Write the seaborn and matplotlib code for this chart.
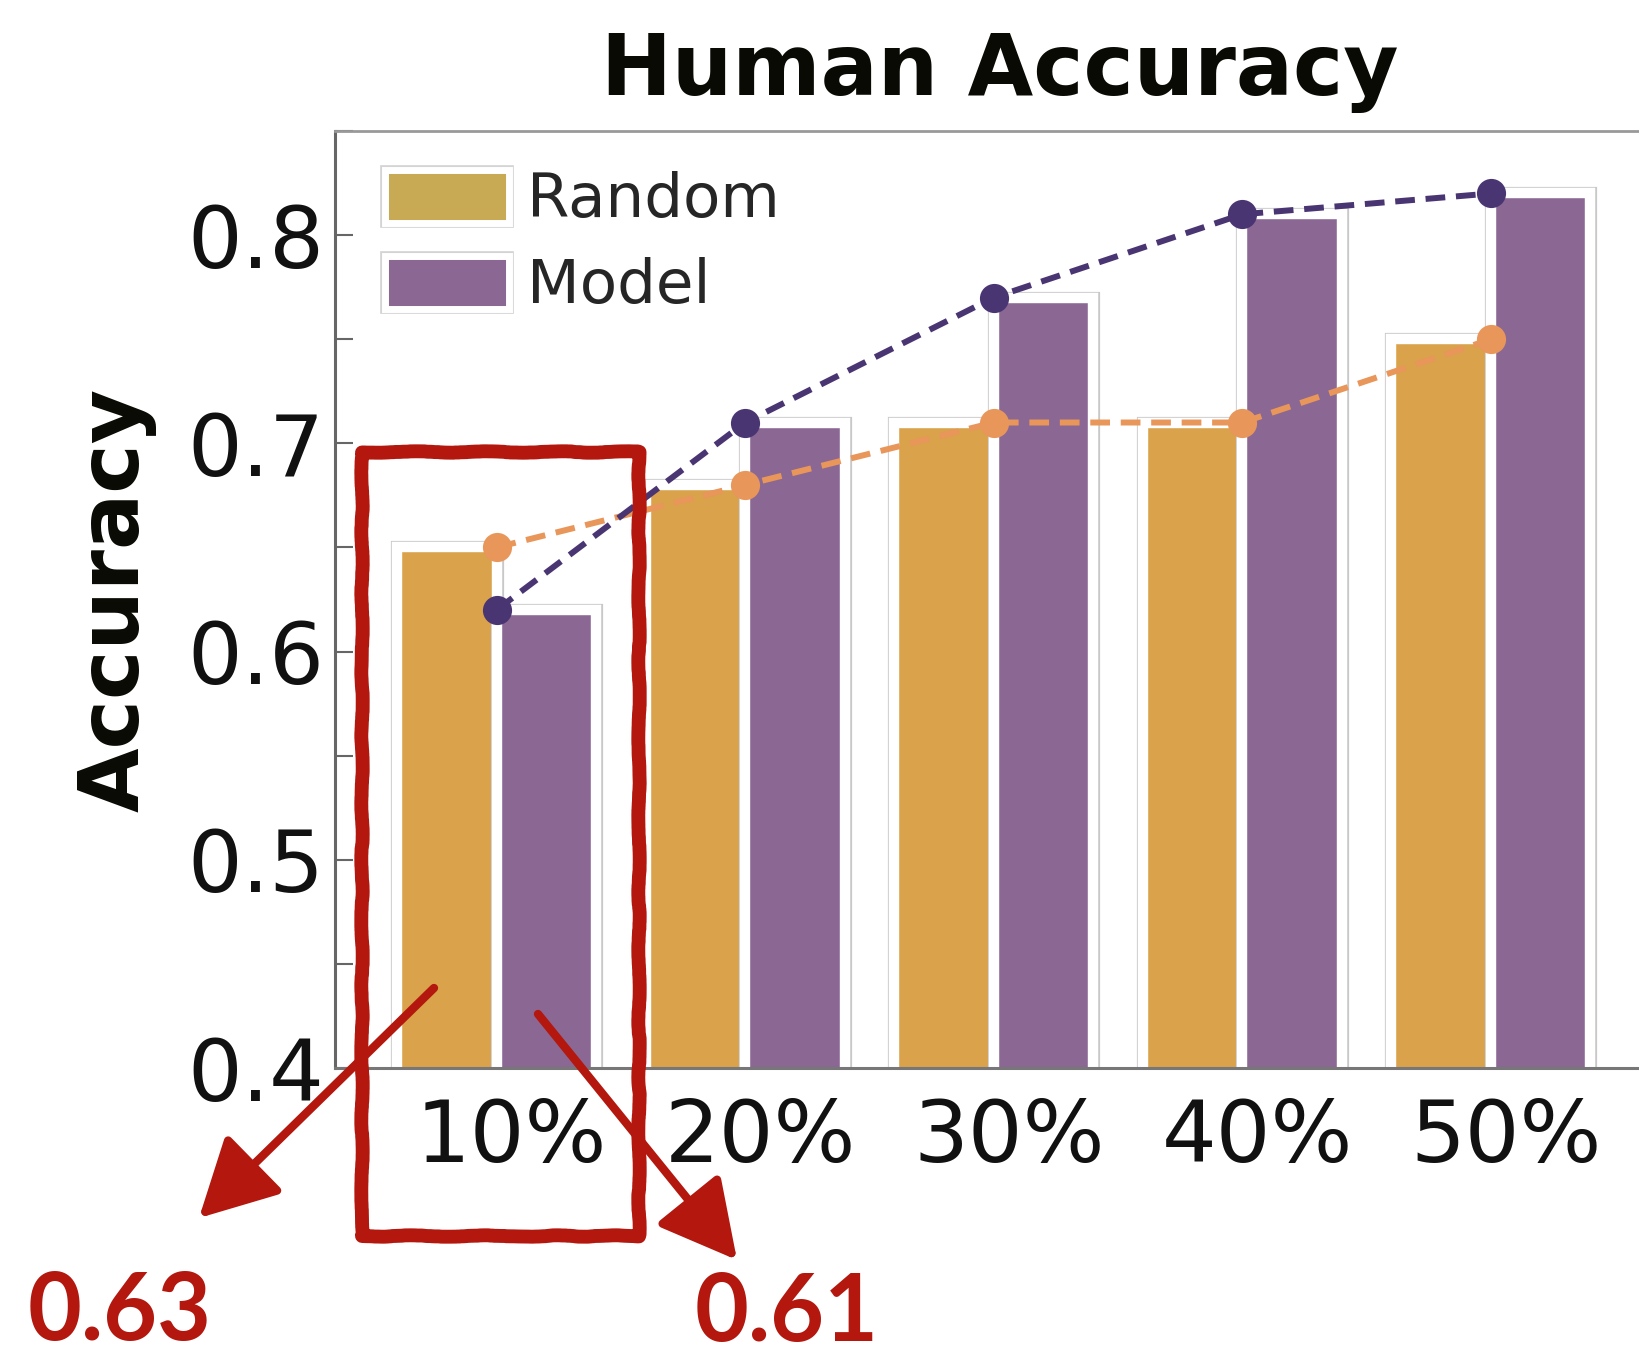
import matplotlib
matplotlib.use('Agg')
import matplotlib.pyplot as plt
import matplotlib.patheffects as pe
import matplotlib.transforms as mtransforms
from matplotlib.patches import Patch, FancyArrowPatch, Rectangle
from matplotlib.ticker import MultipleLocator
import seaborn as sns
import pandas as pd

# ---------------- data ----------------
categories = ['10%', '20%', '30%', '40%', '50%']
series_names = ['Random', 'Model']
random_acc = [0.65, 0.68, 0.71, 0.71, 0.75]
model_acc = [0.62, 0.71, 0.77, 0.81, 0.82]
yticks = [0.4, 0.5, 0.6, 0.7, 0.8]
ytick_labels = ['0.4', '0.5', '0.6', '0.7', '0.8']
callout_labels = ['0.63', '0.61']
title_text = 'Human Accuracy'
ylabel_text = 'Accuracy'

df = pd.DataFrame({
    'ratio': categories * 2,
    'acc': random_acc + model_acc,
    'method': [series_names[0]] * len(categories) + [series_names[1]] * len(categories),
})

# ---------------- style ----------------
sns.set_theme(style='white')
plt.rcParams['font.family'] = ['DejaVu Sans']

W, H = 1639, 1358
fig = plt.figure(figsize=(W / 100, H / 100), dpi=100)


def fx(x):
    return x / W


def fy(y):
    return 1 - y / H


ax = fig.add_axes([fx(335), fy(1068), 1310 / W, (1068 - 131) / H])

bar_colors = {'Random': '#D9A24B', 'Model': '#8B6793'}
legend_colors = {'Random': '#C8AA55', 'Model': '#8B6793'}
line_colors = {'Random': '#E8965A', 'Model': '#4A3573'}
outline = [pe.Stroke(linewidth=9.5, foreground='#c8c8c8'), pe.Normal()]

sns.barplot(data=df, x='ratio', y='acc', hue='method', hue_order=series_names,
            palette=bar_colors, saturation=1, width=0.8, edgecolor='white',
            linewidth=7.5, errorbar=None, legend=False, ax=ax,
            path_effects=outline, zorder=2)

for name, vals in [('Random', random_acc), ('Model', model_acc)]:
    sns.pointplot(x=categories, y=vals, color=line_colors[name], linestyles='--',
                  markers='o', errorbar=None, markersize=21, linewidth=4.3,
                  markeredgewidth=0, ax=ax, zorder=5)

for line in ax.lines:
    line.set_dashes((3.3, 1.8))

ax.set_xlim(-0.65, 4.62)
ax.set_ylim(0.4, 0.85)
ax.set_yticks(yticks)
ax.set_yticklabels(ytick_labels)
ax.yaxis.set_minor_locator(MultipleLocator(0.05))
ax.tick_params(axis='y', which='both', direction='in', length=13, width=1.5,
               color='#666666', labelsize=62, pad=8, left=True, labelcolor='#111111')
ax.tick_params(axis='x', which='major', direction='in', length=7, width=1.5,
               color='#888888', labelsize=62, pad=21, bottom=True, labelcolor='#111111')
shift = mtransforms.ScaledTranslation(15 / 100, 0, fig.dpi_scale_trans)
for lbl in ax.get_xticklabels():
    lbl.set_transform(lbl.get_transform() + shift)

ax.set_xlabel('')
ax.set_ylabel(ylabel_text, fontsize=60, fontweight='bold', color='#0a0a05')
ax.yaxis.set_label_coords(-0.136, 0.5)
ax.set_title(title_text, fontsize=61, fontweight='bold', color='#0a0a05', pad=26)
ax.title.set_x(0.5 + 10 / 1310)

ax.spines['right'].set_visible(False)
ax.spines['left'].set_color('#666666')
ax.spines['left'].set_linewidth(2.2)
ax.spines['bottom'].set_color('#777777')
ax.spines['bottom'].set_linewidth(2.2)
ax.spines['top'].set_color('#999999')
ax.spines['top'].set_linewidth(2.0)

# legend
handles = [Patch(facecolor=legend_colors[n], edgecolor='white', linewidth=5,
                 path_effects=[pe.Stroke(linewidth=7, foreground='#d4d4d4'), pe.Normal()],
                 label=n) for n in series_names]
ax.legend(handles=handles, loc='upper left', bbox_to_anchor=(fx(385), fy(170)),
          bbox_transform=fig.transFigure, frameon=False, fontsize=44,
          handlelength=2.03, handleheight=0.95, handletextpad=0.3,
          labelspacing=0.42, borderpad=0, borderaxespad=0)

# ---------------- red callouts ----------------
red = '#B3170D'
rect = Rectangle((fx(362), fy(1236)), fx(639) - fx(362), fy(452) - fy(1236),
                 transform=fig.transFigure, fill=False, edgecolor=red,
                 linewidth=10, joinstyle='round', clip_on=False, zorder=10)
rect.set_sketch_params(scale=0.7, length=150, randomness=10)
fig.add_artist(rect)

for (x0, y0, x1, y1) in [(434, 988, 199, 1218), (538, 1014, 737, 1260)]:
    arr = FancyArrowPatch(posA=(fx(x0), fy(y0)), posB=(fx(x1), fy(y1)),
                          transform=fig.transFigure,
                          arrowstyle='-|>,head_length=1.7,head_width=0.9',
                          mutation_scale=28, color=red, linewidth=6,
                          capstyle='round', shrinkA=0, shrinkB=0, zorder=10)
    fig.add_artist(arr)

fig.text(fx(120), fy(1313), callout_labels[0], ha='center', va='center', color=red,
         fontsize=67, family=['Lato', 'DejaVu Sans'], fontweight='bold')
fig.text(fx(787), fy(1314), callout_labels[1], ha='center', va='center', color=red,
         fontsize=67, family=['Lato', 'DejaVu Sans'], fontweight='bold')

fig.savefig('out.png', dpi=100)
